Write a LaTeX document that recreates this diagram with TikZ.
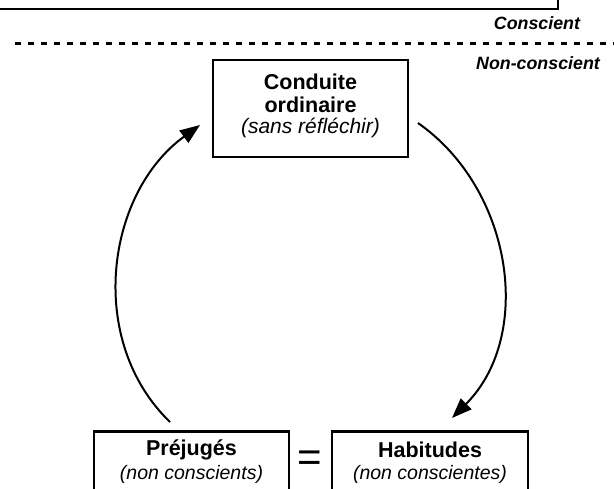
\documentclass[tikz,border=0pt]{standalone}
\usepackage{fontspec}
\setmainfont{Liberation Sans}
\usetikzlibrary{arrows.meta}
\begin{document}
\begin{tikzpicture}[x=1pt,y=-1pt,
  box/.style={draw, line width=2.4pt, inner sep=0pt},
  ttl/.style={font=\fontsize{21.5}{23}\selectfont\bfseries, inner sep=0pt},
  sbt/.style={font=\fontsize{19.5}{22}\selectfont\itshape, inner sep=0pt},
  sbtbig/.style={font=\fontsize{21}{22}\selectfont\itshape, inner sep=0pt},
  layer/.style={font=\fontsize{17.8}{19}\selectfont\bfseries\itshape, inner sep=0pt},
  arrowline/.style={line width=2pt, -{Triangle[length=20pt,width=15pt]}}
]
\useasboundingbox (0,0) rectangle (614,488);
\clip (0,0) rectangle (614,488);
% top box (partly outside the picture)
\node[box, minimum width=569pt, minimum height=19pt] (topbox) at (273.5,-0.5) {};
% layer labels
\node[layer] (conscient) at (537,23) {Conscient};
\node[layer] (nonconscient) at (538,63) {Non-conscient};
\draw[line width=3pt, dash pattern=on 6pt off 7pt] (15,43) -- (620,43);
% conduite
\node[box, minimum width=195pt, minimum height=97pt] (conduite) at (310.5,108.5) {};
\node[ttl] (conduiteA) at (310.5,82) {Conduite};
\node[ttl] (conduiteB) at (310.5,105) {ordinaire};
\node[sbtbig] (conduiteC) at (310.5,128) {(sans réfléchir)};
% bottom boxes
\node[box, minimum width=195pt, minimum height=69pt] (prejuges) at (191.5,466) {};
\node[ttl] (prejugesA) at (191.5,450) {Préjugés};
\node[sbt] (prejugesB) at (191.5,474) {(non conscients)};
\node[box, minimum width=196pt, minimum height=69pt] (habitudes) at (430,466) {};
\node[ttl] (habitudesA) at (430,450) {Habitudes};
\node[sbt] (habitudesB) at (430,474) {(non conscientes)};
\node[font=\fontsize{42}{42}\selectfont, inner sep=0pt] (eq) at (310,461) {=};
% arrows
\coordinate (l1) at (170,422);
\coordinate (l2) at (200,125);
\coordinate (r1) at (418,123);
\coordinate (r2) at (452,418);
\draw[arrowline] (l1) to[out=136, in=216] (l2);
\draw[arrowline] (r1) to[out=-35, in=45] (r2);
\end{tikzpicture}
\end{document}
